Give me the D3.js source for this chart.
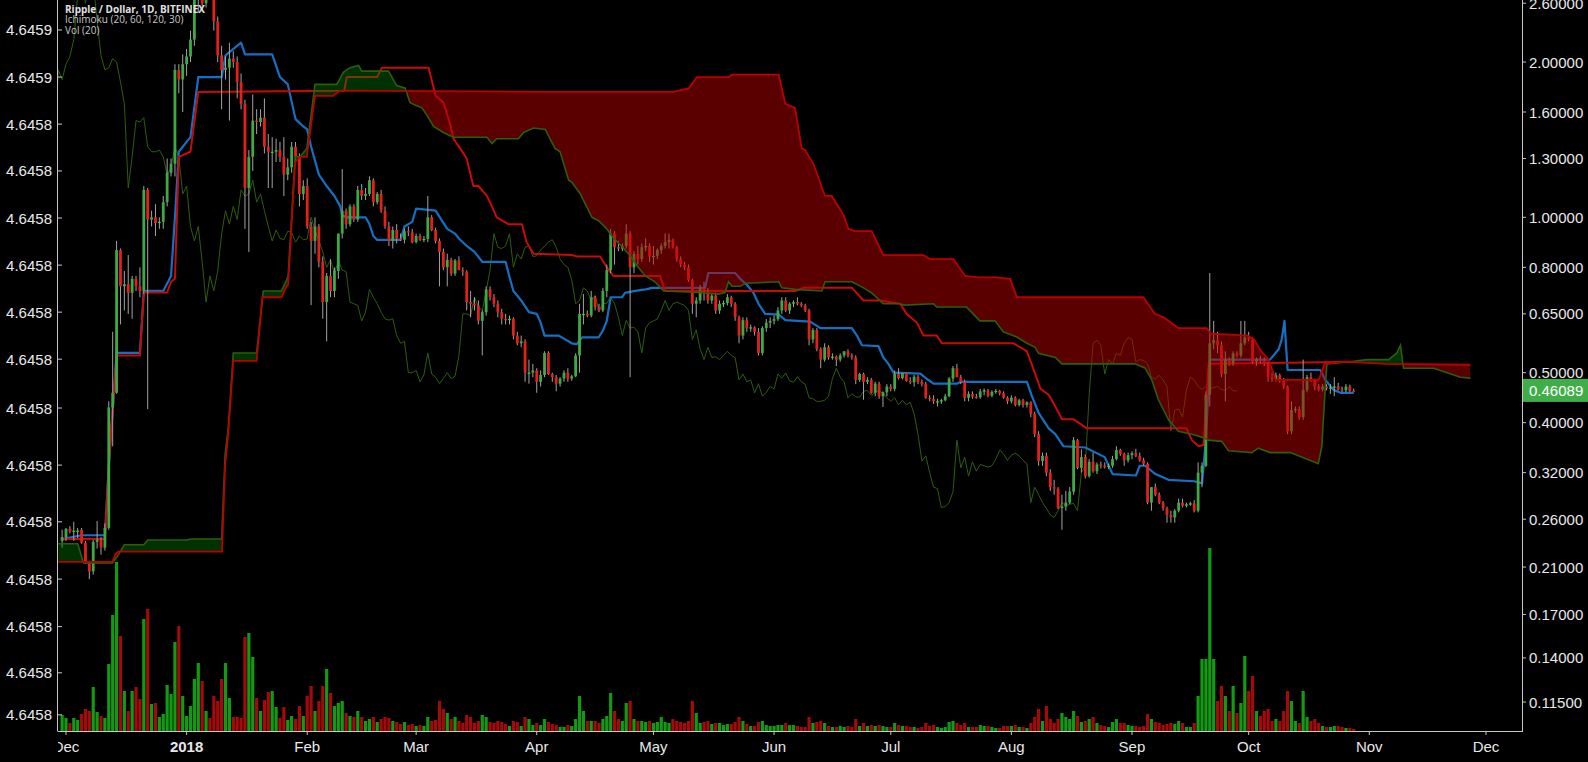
<!DOCTYPE html>
<html><head><meta charset="utf-8">
<script src="https://cdn.jsdelivr.net/npm/d3@7"></script>
<style>
html,body{margin:0;padding:0;background:#000;}
svg{display:block;}
</style></head>
<body><svg id="chart" width="1588" height="762"></svg>
<script>
// ---------------- DATA ----------------
const startDate = "2017-11-30"; // date of first daily candle
const titleLines = ["Ripple / Dollar, 1D, BITFINEX", "Ichimoku (20, 60, 120, 30)", "Vol (20)"];
const lastPrice = 0.46089;
const priceTicks = [2.6, 2.0, 1.6, 1.3, 1.0, 0.8, 0.65, 0.5, 0.4, 0.32, 0.26, 0.21, 0.17, 0.14, 0.115];
const leftTickLabels = ["4.6459","4.6459","4.6458","4.6458","4.6458","4.6458","4.6458","4.6458","4.6458","4.6458","4.6458","4.6458","4.6458","4.6458","4.6458"];
const leftTickValues = [2.307,1.870,1.516,1.230,0.997,0.808,0.655,0.531,0.427,0.331,0.257,0.199,0.161,0.131,0.1086];
const chikouShift = 30;

const opens = [
.236,.240,.249,.246,.247,.248,.234,.215,.206,.235,
.237,.229,.250,.428,.457,.864,.735,.742,.714,.760,
.735,.720,1.13,.990,1.00,.975,.980,1.07,1.22,1.27,
1.93,1.85,1.98,2.05,2.21,2.70,3.00,2.60,2.90,2.85,
2.40,2.06,1.93,1.95,2.03,2.00,1.83,1.66,1.14,1.31,
1.54,1.53,1.56,1.37,1.34,1.34,1.35,1.31,1.21,1.25,
1.37,1.31,1.11,1.15,.96,.90,.96,.82,.685,.77,
.72,.787,.93,1.03,.97,1.05,.99,1.13,1.10,1.11,
1.18,1.07,1.11,1.03,.96,.90,.945,.91,.905,.94,
.935,.895,.92,.905,.908,1.00,.945,.90,.857,.80,
.827,.778,.825,.79,.785,.685,.68,.675,.63,.655,
.725,.70,.68,.655,.636,.632,.636,.59,.57,.575,
.50,.50,.505,.48,.495,.546,.497,.49,.476,.487,
.50,.487,.492,.54,.65,.65,.645,.70,.67,.66,
.72,.79,.93,.875,.87,.88,.93,.80,.85,.83,
.875,.88,.84,.842,.864,.88,.895,.905,.875,.83,
.81,.80,.756,.68,.69,.73,.72,.69,.705,.66,
.68,.682,.70,.68,.64,.59,.632,.61,.612,.60,
.546,.61,.625,.63,.635,.66,.69,.66,.68,.685,
.68,.675,.66,.58,.605,.556,.53,.56,.535,.537,
.53,.54,.55,.54,.535,.484,.497,.48,.484,.457,
.476,.45,.458,.47,.465,.497,.488,.499,.482,.479,
.491,.48,.475,.447,.445,.44,.44,.442,.45,.487,
.51,.49,.48,.447,.455,.449,.448,.46,.462,.451,
.459,.461,.456,.447,.44,.447,.433,.442,.433,.438,
.416,.38,.337,.345,.32,.30,.298,.274,.275,.28,
.294,.37,.327,.343,.315,.336,.322,.332,.33,.328,
.33,.34,.354,.348,.338,.346,.349,.345,.338,.333,
.28,.30,.29,.28,.273,.265,.262,.27,.28,.276,
.278,.279,.27,.32,.33,.453,.57,.578,.565,.497,
.53,.52,.545,.54,.57,.585,.58,.525,.53,.528,
.52,.49,.486,.494,.484,.47,.385,.423,.425,.41,
.463,.49,.484,.47,.464,.47,.466,.468,.47,.464,
.462,.47,.461];
const highs = [
.248,.250,.252,.257,.250,.250,.236,.216,.237,.258,
.240,.255,.440,.600,.900,.870,.787,.845,.770,.770,
.800,1.15,1.14,1.03,1.06,1.00,1.10,1.30,1.30,1.98,
1.98,2.07,2.12,2.30,2.80,3.50,3.10,3.00,3.20,2.90,
2.45,2.15,2.05,2.18,2.10,2.05,1.90,1.69,1.35,1.73,
1.62,1.62,1.70,1.45,1.43,1.42,1.40,1.43,1.30,1.40,
1.40,1.33,1.18,1.19,.98,1.00,.97,.84,.78,.83,
.80,.93,1.24,1.04,1.06,1.06,1.15,1.16,1.14,1.20,
1.19,1.12,1.13,1.05,.98,.96,.97,.93,.95,.96,
.95,.93,.93,.92,1.10,1.01,.955,.91,.87,.85,
.835,.83,.84,.80,.79,.72,.70,.69,.66,.735,
.735,.71,.69,.665,.65,.645,.64,.60,.59,.58,
.53,.52,.51,.505,.55,.55,.50,.495,.49,.505,
.51,.495,.545,.68,.71,.66,.72,.705,.68,.73,
.81,.95,.94,.90,.89,.97,.94,.86,.88,.89,
.91,.89,.88,.87,.89,.93,.93,.91,.88,.84,
.82,.81,.76,.70,.74,.75,.73,.71,.715,.69,
.69,.71,.705,.685,.645,.64,.64,.62,.615,.61,
.615,.635,.64,.645,.67,.70,.70,.685,.69,.70,
.685,.68,.665,.61,.61,.56,.57,.565,.545,.54,
.545,.55,.555,.545,.54,.50,.50,.49,.488,.48,
.48,.46,.475,.475,.505,.51,.50,.50,.49,.495,
.495,.485,.48,.452,.452,.445,.445,.455,.49,.515,
.52,.495,.485,.46,.46,.455,.465,.466,.465,.462,
.465,.463,.46,.45,.452,.45,.445,.445,.44,.44,
.42,.385,.35,.35,.325,.31,.30,.29,.295,.30,
.375,.372,.355,.347,.34,.35,.335,.336,.335,.333,
.345,.36,.356,.35,.35,.352,.356,.35,.342,.335,
.30,.305,.293,.282,.275,.27,.272,.285,.285,.28,
.281,.283,.335,.335,.46,.78,.63,.60,.575,.55,
.535,.55,.55,.63,.63,.60,.585,.535,.54,.535,
.525,.50,.50,.498,.488,.472,.44,.43,.43,.53,
.495,.50,.487,.475,.475,.475,.475,.49,.478,.47,
.475,.474,.466];
const lows = [
.229,.236,.244,.236,.239,.233,.213,.199,.203,.228,
.222,.226,.248,.360,.455,.620,.660,.650,.636,.720,
.700,.710,.425,.960,.920,.950,.950,1.05,1.20,1.20,
1.74,1.60,1.88,2.00,2.15,2.50,2.50,2.55,2.70,2.30,
2.00,1.62,1.85,1.54,1.95,1.70,1.62,.950,.857,1.23,
1.45,1.50,1.33,1.14,1.14,1.28,1.28,1.10,1.18,1.22,
1.28,1.05,1.08,.95,.676,.85,.80,.636,.575,.70,
.70,.76,.91,.95,.96,.98,.98,1.08,1.08,1.10,
1.05,1.06,1.02,.95,.88,.87,.89,.90,.89,.92,
.89,.89,.90,.895,.895,.94,.89,.735,.79,.735,
.77,.77,.79,.77,.66,.64,.66,.62,.54,.645,
.69,.67,.64,.62,.62,.62,.58,.565,.56,.48,
.476,.49,.457,.47,.49,.495,.48,.46,.47,.48,
.48,.482,.49,.50,.62,.64,.64,.66,.655,.655,
.70,.78,.81,.86,.86,.87,.49,.78,.81,.82,
.86,.82,.81,.83,.85,.87,.87,.87,.82,.80,
.79,.75,.65,.64,.68,.69,.68,.68,.65,.65,
.67,.675,.67,.63,.57,.58,.60,.60,.59,.54,
.54,.60,.61,.62,.63,.65,.655,.65,.67,.675,
.67,.655,.565,.57,.55,.51,.525,.53,.53,.515,
.525,.535,.535,.53,.475,.48,.443,.475,.455,.45,
.445,.429,.45,.46,.46,.485,.485,.48,.475,.47,
.475,.47,.445,.44,.435,.43,.435,.44,.448,.48,
.49,.475,.44,.44,.445,.445,.445,.452,.448,.448,
.455,.452,.445,.435,.436,.43,.43,.428,.428,.41,
.375,.33,.33,.315,.295,.29,.272,.248,.27,.278,
.29,.325,.32,.312,.313,.32,.318,.326,.326,.325,
.327,.338,.345,.33,.335,.34,.343,.336,.33,.278,
.27,.288,.278,.27,.256,.256,.256,.268,.274,.274,
.276,.268,.268,.30,.328,.43,.555,.545,.49,.44,
.515,.515,.535,.535,.565,.575,.52,.515,.52,.515,
.48,.48,.48,.478,.465,.38,.38,.418,.405,.405,
.458,.48,.462,.46,.46,.462,.455,.45,.462,.458,
.458,.458,.458];
const closes = [
.240,.249,.246,.247,.247,.234,.215,.206,.235,.237,
.229,.250,.428,.457,.864,.735,.742,.714,.760,.735,
.720,1.13,.990,1.00,.975,.980,1.07,1.22,1.27,1.93,
1.85,1.98,2.05,2.21,2.70,3.00,2.60,2.90,2.85,2.40,
2.06,1.93,1.95,2.03,2.00,1.83,1.66,1.14,1.31,1.54,
1.53,1.56,1.37,1.34,1.34,1.35,1.31,1.21,1.25,1.37,
1.31,1.11,1.15,.96,.90,.96,.82,.685,.77,.72,
.787,.93,1.03,.97,1.05,.99,1.13,1.10,1.11,1.18,
1.07,1.11,1.03,.96,.90,.945,.91,.905,.94,.935,
.895,.92,.905,.908,1.00,.945,.90,.857,.80,.827,
.778,.825,.79,.785,.685,.68,.675,.63,.655,.725,
.70,.68,.655,.636,.632,.636,.59,.57,.575,.50,
.50,.505,.48,.495,.546,.497,.49,.476,.487,.50,
.487,.492,.54,.65,.65,.645,.70,.67,.66,.72,
.79,.93,.875,.87,.88,.93,.80,.85,.83,.875,
.88,.84,.842,.864,.88,.895,.905,.875,.83,.81,
.80,.756,.68,.69,.73,.72,.69,.705,.66,.68,
.682,.70,.68,.64,.59,.632,.61,.612,.60,.546,
.61,.625,.63,.635,.66,.69,.66,.68,.685,.68,
.675,.66,.58,.605,.556,.53,.56,.535,.537,.53,
.54,.55,.54,.535,.484,.497,.48,.484,.457,.476,
.45,.458,.47,.465,.497,.488,.499,.482,.479,.491,
.48,.475,.447,.445,.44,.44,.442,.45,.487,.51,
.49,.48,.447,.455,.449,.448,.46,.462,.451,.459,
.461,.456,.447,.44,.447,.433,.442,.433,.438,.416,
.38,.337,.345,.32,.30,.298,.274,.275,.28,.294,
.37,.327,.343,.315,.336,.322,.332,.33,.328,.33,
.34,.354,.348,.338,.346,.349,.345,.338,.333,.28,
.30,.29,.28,.273,.265,.262,.27,.28,.276,.278,
.279,.27,.32,.33,.453,.57,.578,.565,.497,.53,
.52,.545,.54,.57,.585,.58,.525,.53,.528,.52,
.49,.486,.494,.484,.47,.385,.423,.425,.41,.463,
.49,.484,.47,.464,.47,.466,.468,.47,.464,.462,
.47,.461,.46089];
const volumes = [
16,13,8,13,11,17,22,20,44,19,
15,13,67,116,169,95,40,20,40,44,
32,112,122,27,28,14,17,46,37,89,
105,35,15,25,52,68,50,20,13,35,
30,52,68,33,14,14,13,94,98,74,
33,20,31,39,40,24,13,24,11,15,
12,25,15,35,45,20,30,45,62,38,
25,28,30,18,15,14,20,14,10,12,
14,9,12,14,13,10,9,7,9,6,
7,5,6,5,14,10,11,30,22,18,
12,14,10,8,16,14,8,10,16,14,
9,8,10,9,7,5,10,9,5,14,
12,6,8,6,12,9,7,6,4,4,
6,5,12,35,20,10,10,10,8,12,
15,38,20,12,10,28,30,12,10,10,
9,10,8,9,14,9,8,12,10,9,
8,10,30,18,8,9,10,7,8,8,
6,7,7,9,14,10,7,5,5,9,
10,6,5,5,6,6,8,6,6,5,
4,4,14,8,9,10,8,5,4,4,
5,4,5,4,12,5,8,5,6,5,
6,5,4,4,8,6,5,5,4,4,
3,4,8,5,6,4,3,4,9,10,
8,6,8,4,4,4,6,5,5,4,
3,3,5,5,5,6,4,4,3,8,
14,22,10,25,12,8,12,18,14,12,
20,15,9,10,12,14,8,6,5,4,
9,12,8,8,6,5,5,4,5,17,
12,9,8,6,7,8,7,10,8,4,
4,8,35,72,72,183,72,30,45,35,
20,45,18,28,75,40,55,20,15,20,
22,10,12,10,20,40,30,10,8,40,
14,10,12,8,5,4,4,5,5,4,
3,3,2];

// Ichimoku lines as read: [days after startDate, price]
const tenkan = [[0,.238],[5,.242],[11,.242],[12,.33],[14,.546],[20,.546],[21,.72],[26,.72],[28,.77],[29,1.0],[30,1.34],[32,1.40],[33,1.43],[35,1.87],[41,1.87],[42,2.06],[46,2.18],[47,2.07],[54,2.07],[56,1.87],[58,1.81],[60,1.55],[62,1.50],[63,1.48],[64,1.37],[66,1.21],[68,1.15],[70,1.10],[71.5,1.05],[72,1.01],[73,1.0],[78,1.0],[79,.97],[80,.92],[81,.904],[87,.904],[88,.96],[90,.98],[91,1.04],[96,1.03],[99,.95],[101,.93],[102,.91],[104,.88],[106,.857],[108,.82],[114,.82],[115,.766],[116,.72],[118,.69],[120,.655],[122,.65],[123,.625],[124,.59],[127.6,.59],[129.3,.58],[131,.57],[132.3,.568],[133.6,.585],[137.9,.585],[139.1,.605],[140,.63],[141,.70],[143.9,.70],[144.7,.714],[147.3,.72],[150,.725],[151.6,.73],[165.3,.73],[166.1,.78],[173,.78],[174.3,.76],[176,.74],[177.7,.714],[179,.68],[180.7,.65],[184.2,.648],[185.9,.632],[192.3,.628],[194.9,.61],[203,.61],[204.3,.59],[205.6,.565],[209.8,.563],[211.1,.535],[212.4,.52],[213.7,.50],[220.6,.498],[222.3,.486],[224,.476],[230,.476],[231,.48],[248,.48],[249.3,.45],[251,.418],[253.6,.39],[255.3,.38],[257.4,.36],[263,.358],[268,.343],[270,.318],[276,.316],[277,.33],[278.4,.33],[281,.318],[284.4,.31],[291,.308],[293,.305],[294,.37],[295,.53],[310.5,.53],[312.7,.555],[313.5,.58],[314.2,.63],[315,.506],[323.4,.506],[324.7,.484],[326.8,.463],[328.6,.457],[332,.457]];
const kijun = [[0,.238],[11,.238],[12,.33],[14,.54],[20,.54],[21,.715],[27,.715],[28,.75],[29,.76],[30,1.31],[33,1.34],[35,1.75],[72.5,1.76],[73.2,1.87],[81,1.87],[82.2,1.95],[94.2,1.95],[96,1.72],[98,1.67],[99.7,1.52],[100.6,1.42],[102.3,1.36],[104,1.30],[105.7,1.15],[107,1.15],[109.2,1.10],[110.5,1.05],[111.7,1.0],[114.7,.97],[118.2,.97],[119.4,.895],[121.2,.85],[131,.845],[132.3,.84],[138.3,.84],[140,.80],[141.7,.77],[153.7,.77],[155,.72],[188.4,.72],[190.5,.73],[203,.73],[206,.69],[210.2,.69],[215.4,.68],[217.1,.65],[219.7,.625],[221.4,.59],[224.8,.59],[226.1,.57],[244.5,.57],[246.3,.56],[248,.55],[250,.50],[251.5,.465],[253.6,.453],[255.3,.43],[257,.406],[260,.406],[263.4,.39],[289,.39],[290.4,.37],[292.1,.36],[293.4,.362],[294.7,.52],[332,.525]];
const spanA = [[-1,.233],[4,.233],[5.5,.214],[13,.214],[14.5,.222],[16,.232],[21,.232],[22,.237],[32,.237],[33,.238],[41,.238],[41.9,.347],[42.7,.39],[44,.546],[50,.546],[51.7,.72],[56.4,.72],[57.7,.756],[58.1,.77],[59.9,1.31],[61.2,1.31],[62.9,1.36],[65,1.81],[70.6,1.81],[72.3,1.91],[74,1.95],[76.2,1.97],[77,1.92],[83.9,1.92],[86,1.80],[88.2,1.78],[89.4,1.67],[90.7,1.65],[92.5,1.63],[93.7,1.58],[95.5,1.50],[98,1.46],[100.6,1.43],[109.2,1.43],[110.5,1.39],[111.7,1.42],[117.3,1.42],[118.6,1.46],[121.2,1.49],[124.2,1.48],[125.4,1.42],[126.7,1.36],[128,1.34],[130.2,1.18],[131,1.17],[133.2,1.11],[136.2,1.0],[137.9,.985],[140,.95],[141.3,.92],[145.6,.85],[148.1,.80],[149.9,.77],[152.4,.75],[154.6,.72],[163.6,.715],[168.7,.71],[170.4,.715],[171.3,.75],[172.2,.735],[174.3,.735],[175.6,.745],[184.2,.75],[185,.73],[188.4,.725],[195.3,.72],[196.1,.75],[203,.75],[206,.73],[208.1,.714],[211.1,.68],[215.4,.68],[216.3,.676],[224,.68],[224.8,.67],[232.5,.67],[235.9,.63],[239.8,.63],[241.9,.60],[245.4,.586],[248,.57],[250.1,.56],[251,.545],[255.3,.535],[257,.52],[275.8,.52],[278.4,.51],[280.1,.484],[281.8,.443],[284.4,.405],[286.9,.385],[290.4,.38],[292.9,.375],[294.7,.37],[298.1,.368],[299.8,.353],[305.8,.35],[307.5,.357],[310.5,.35],[315.7,.35],[319.9,.34],[322.9,.333],[323.8,.36],[324.7,.47],[325.1,.52],[332,.526],[335.4,.53],[341,.53],[343.1,.546],[344,.565],[344.8,.51],[352.6,.51],[356,.50],[359.4,.49],[362,.488]];
const spanB = [[-1,.215],[12.9,.215],[13.7,.222],[14.4,.225],[41.1,.225],[41.9,.33],[42.7,.38],[44,.527],[50,.527],[51.5,.70],[56.4,.70],[57.7,.735],[58.1,.74],[59.9,1.28],[61.2,1.31],[62.9,1.31],[65,1.72],[69.7,1.72],[71.5,1.76],[125.4,1.75],[157.2,1.75],[161.1,1.78],[163.2,1.87],[171.4,1.87],[172.2,1.89],[184.2,1.89],[185.9,1.66],[188.4,1.63],[190.1,1.36],[191,1.35],[193.1,1.27],[196.1,1.10],[197.8,1.10],[200.9,1.01],[202.1,.95],[203.8,.94],[208.1,.94],[211.1,.845],[221.4,.845],[223.1,.83],[229.1,.83],[232.1,.77],[235.5,.765],[239.8,.765],[243.7,.76],[245.4,.70],[277.9,.70],[280.9,.65],[283.1,.64],[286.9,.61],[294.2,.61],[295.2,.595],[304.7,.59],[306.4,.58],[308,.553],[310.1,.53],[312,.484],[323,.484],[324.5,.52],[330,.525],[340,.52],[362,.518]];

// ---------------- CHART ----------------
const svg = d3.select("#chart");
const W = 1588, H = 762;
const P = {left: 58, right: 1522, top: 0, bottom: 731};
svg.append("rect").attr("width", W).attr("height", H).attr("fill", "#000");

const t0 = d3.utcParse("%Y-%m-%d")(startDate);
const dayDate = d => new Date(t0.getTime() + d * 864e5);
const x = d3.scaleUtc().domain([new Date(Date.UTC(2017, 11, 1)), new Date(Date.UTC(2018, 11, 1))]).range([66, 1486]);
const y = d3.scaleLog().domain([2.0, 0.115]).range([62, 702]);
const vy = d3.scaleLinear().domain([0, 400]).range([P.bottom, P.bottom - 400]);
const xd = d => x(dayDate(d));

const defs = svg.append("defs");
defs.append("clipPath").attr("id", "plotClip").append("rect")
  .attr("x", P.left).attr("y", P.top).attr("width", P.right - P.left).attr("height", P.bottom - P.top);
defs.append("clipPath").attr("id", "xLabClip").append("rect")
  .attr("x", P.left).attr("y", P.bottom).attr("width", P.right - P.left).attr("height", H - P.bottom);

const plot = svg.append("g").attr("clip-path", "url(#plotClip)");

const candles = closes.map((c, i) => ({i, o: opens[i], h: highs[i], l: lows[i], c, v: volumes[i]}));

// volume
plot.append("g").selectAll("rect").data(candles).join("rect")
  .attr("x", d => xd(d.i) - 1.6).attr("width", 3.2)
  .attr("y", d => vy(d.v)).attr("height", d => P.bottom - vy(d.v))
  .attr("fill", d => d.c >= d.o ? "#129a12" : "#a50a0a");

const line = d3.line().x(d => xd(d[0])).y(d => y(d[1]));

// lagging span from closes shifted back
const chikou = closes.map((c, i) => [i - chikouShift, c]).filter(d => d[0] >= -2);
plot.append("path").attr("d", line(chikou)).attr("fill", "none")
  .attr("stroke", "#2f5d0c").attr("stroke-width", 1);

// tenkan / kijun
plot.append("path").attr("d", line(tenkan)).attr("fill", "none")
  .attr("stroke", "#1570c2").attr("stroke-width", 2.2).attr("stroke-linejoin", "round");
plot.append("path").attr("d", line(kijun)).attr("fill", "none")
  .attr("stroke", "#c80a0a").attr("stroke-width", 2).attr("stroke-linejoin", "round");

// candles
const cg = plot.append("g");
cg.selectAll("line").data(candles).join("line")
  .attr("x1", d => xd(d.i)).attr("x2", d => xd(d.i))
  .attr("y1", d => y(d.h)).attr("y2", d => y(d.l))
  .attr("stroke", "#a3a3a3").attr("stroke-width", 1);
cg.selectAll("rect").data(candles).join("rect")
  .attr("x", d => xd(d.i) - 1.4).attr("width", 2.8)
  .attr("y", d => Math.min(y(d.o), y(d.c)))
  .attr("height", d => Math.max(1.2, Math.abs(y(d.o) - y(d.c))))
  .attr("fill", d => d.c >= d.o ? (Math.abs(y(d.o) - y(d.c)) < 1.5 ? "#22e022" : "#3eaa45") : "#e3201c");

// cloud
const pA = spanA.map(d => [xd(d[0]), y(d[1])]);
const pB = spanB.map(d => [xd(d[0]), y(d[1])]);
const poly = pts => "M" + pts.map(p => p[0] + "," + p[1]).join("L") + "Z";
const x0 = pA[0][0], x1 = pA[pA.length - 1][0];
defs.append("clipPath").attr("id", "aboveA").append("path")
  .attr("d", poly(pA.concat([[x1, -50], [x0, -50]])));
defs.append("clipPath").attr("id", "belowA").append("path")
  .attr("d", poly(pA.concat([[x1, 900], [x0, 900]])));
const cloudD = poly(pA.concat(pB.slice().reverse()));
const cloud = plot.append("g");
cloud.append("path").attr("d", cloudD).attr("fill-rule", "evenodd")
  .attr("clip-path", "url(#aboveA)").attr("fill", "#b40000").attr("fill-opacity", 0.5);
cloud.append("path").attr("d", cloudD).attr("fill-rule", "evenodd")
  .attr("clip-path", "url(#belowA)").attr("fill", "#007a00").attr("fill-opacity", 0.4);
plot.append("path").attr("d", line(spanA)).attr("fill", "none")
  .attr("stroke", "#2c5e0e").attr("stroke-width", 1.6);
plot.append("path").attr("d", line(spanB)).attr("fill", "none")
  .attr("stroke", "#bb0000").attr("stroke-width", 1.8);

// ---------------- AXES ----------------
const axisCol = "#c8c8c8", textCol = "#e8e8e8";
const font = "'Liberation Sans', Arial, sans-serif";
// right axis
svg.append("line").attr("x1", P.right + 0.5).attr("x2", P.right + 0.5).attr("y1", 0).attr("y2", P.bottom + 0.5)
  .attr("stroke", axisCol);
const ra = svg.append("g");
priceTicks.forEach(v => {
  ra.append("line").attr("x1", P.right).attr("x2", P.right + 4).attr("y1", y(v)).attr("y2", y(v)).attr("stroke", axisCol);
  ra.append("text").attr("x", P.right + 7).attr("y", y(v) + 5.5).attr("fill", textCol)
    .attr("font-family", font).attr("font-size", 15).text(d3.format(".5f")(v));
});
ra.append("rect").attr("x", P.right + 1).attr("y", y(lastPrice) - 12).attr("width", W - P.right).attr("height", 23)
  .attr("fill", "#3fae49");
ra.append("text").attr("x", P.right + 7).attr("y", y(lastPrice) + 5).attr("fill", "#fff")
  .attr("font-family", font).attr("font-size", 15).text(d3.format(".5f")(lastPrice));

// left axis
svg.append("line").attr("x1", P.left - 0.5).attr("x2", P.left - 0.5).attr("y1", 0).attr("y2", P.bottom + 0.5)
  .attr("stroke", axisCol);
const la = svg.append("g");
leftTickValues.forEach((v, k) => {
  la.append("line").attr("x1", P.left).attr("x2", P.left + 4).attr("y1", y(v)).attr("y2", y(v)).attr("stroke", axisCol);
  la.append("text").attr("x", P.left - 6).attr("y", y(v) + 5.5).attr("text-anchor", "end").attr("fill", textCol)
    .attr("font-family", font).attr("font-size", 15).text(leftTickLabels[k]);
});

// bottom axis
svg.append("line").attr("x1", P.left).attr("x2", P.right + 1).attr("y1", P.bottom + 0.5).attr("y2", P.bottom + 0.5)
  .attr("stroke", axisCol);
const months = d3.utcMonths(new Date(Date.UTC(2017, 11, 1)), new Date(Date.UTC(2018, 11, 2)));
const ba = svg.append("g").attr("clip-path", "url(#xLabClip)");
months.forEach(m => {
  const xm = x(m);
  ba.append("line").attr("x1", xm).attr("x2", xm).attr("y1", P.bottom).attr("y2", P.bottom + 4).attr("stroke", axisCol);
  const isYear = m.getUTCMonth() === 0;
  ba.append("text").attr("x", xm).attr("y", 752).attr("text-anchor", "middle").attr("fill", textCol)
    .attr("font-family", font).attr("font-size", 15).attr("font-weight", isYear ? "bold" : "normal")
    .text(isYear ? d3.utcFormat("%Y")(m) : d3.utcFormat("%b")(m));
});

// title
const tg = svg.append("g");
titleLines.forEach((t, k) => {
  tg.append("text").attr("x", 65).attr("y", 12.5 + k * 10.5).attr("fill", k === 0 ? "#e0e0e0" : "#c8c8c8")
    .attr("font-family", "'Open Sans', 'DejaVu Sans', sans-serif").attr("font-size", 10)
    .attr("font-weight", k === 0 ? "bold" : "normal").text(t);
});
</script>
</body></html>
